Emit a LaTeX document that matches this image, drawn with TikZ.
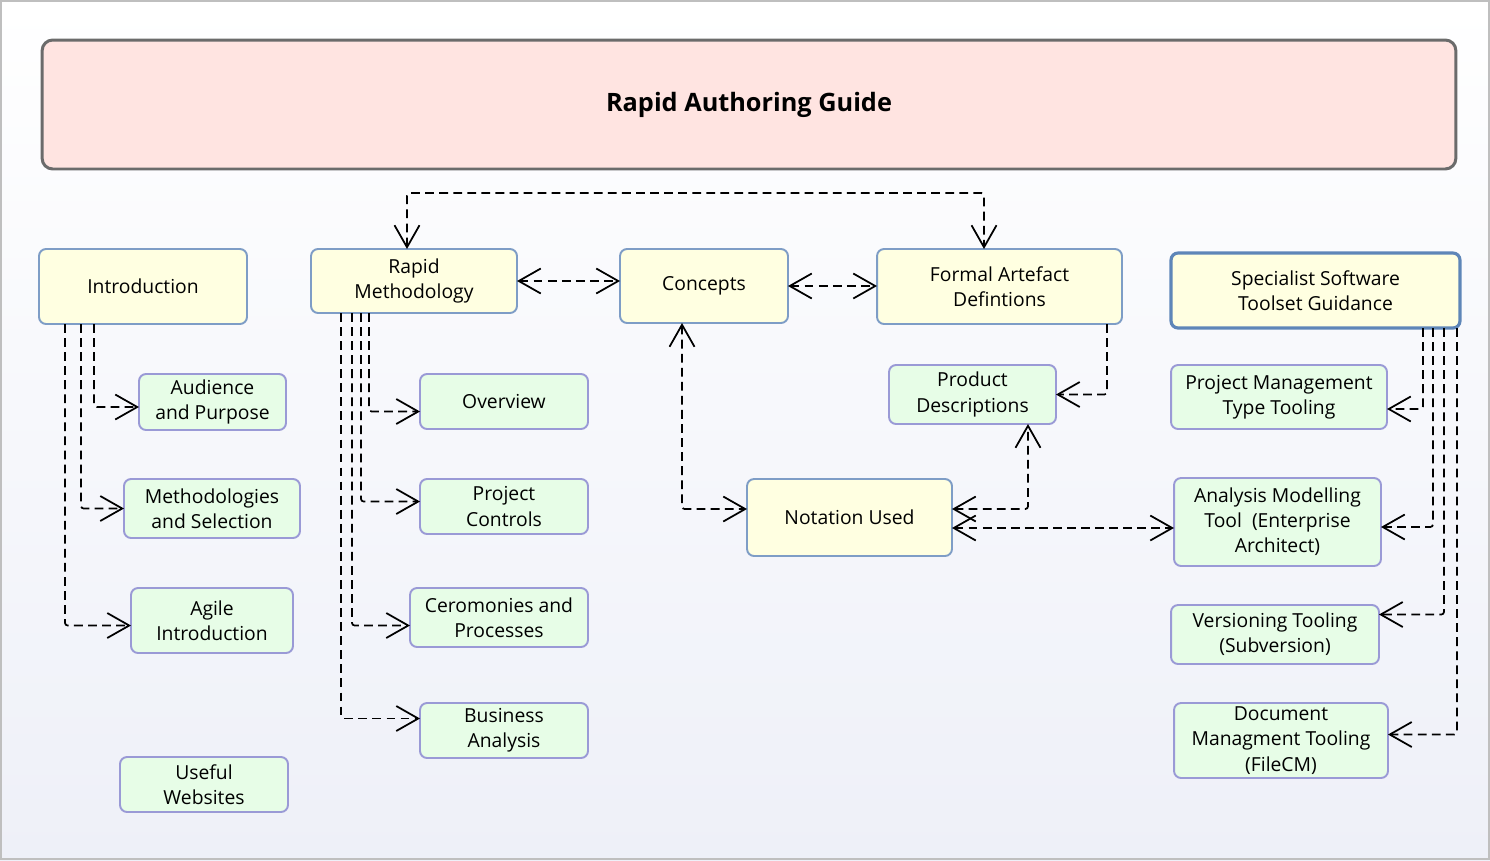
\documentclass[tikz,border=0pt]{standalone}
\usepackage{fontspec}
\setmainfont{Open Sans}
\usepackage{xcolor}
\usepackage{tikz}
\usetikzlibrary{arrows.meta}
\definecolor{topicfill}{HTML}{FFFFE1}
\definecolor{topicline}{HTML}{7E9DC6}
\definecolor{subfill}{HTML}{E7FDE7}
\definecolor{subline}{HTML}{9A9AD6}
\definecolor{guideline}{HTML}{5E86B8}
\definecolor{titlefill}{HTML}{FFE4E1}
\definecolor{titleline}{HTML}{6B6B6B}
\definecolor{bgbottom}{HTML}{EEF0F8}
\tikzset{
every picture/.style={x=0.02cm, y=-0.02cm},
%%%%%%%%%%  Node styles
topic/.style={fill=topicfill, draw=topicline, line width=1.1pt,
              rounded corners=4pt, inner sep=0pt, outer sep=0pt,
              align=center, font=\fontsize{11}{14.3}\selectfont},
sub_topic/.style={topic, fill=subfill, draw=subline},
guide_topic/.style={topic, draw=guideline, line width=1.8pt},
title_box/.style={fill=titlefill, draw=titleline, line width=1.7pt,
                  rounded corners=6pt, inner sep=0pt,
                  font=\fontsize{14.4}{17}\selectfont\bfseries},
%%%%%%% connector styles
dep/.style={dash pattern=on 5pt off 3pt, line width=1pt,
            rounded corners=1.5pt,
            -{Straight Barb[length=0.44cm,width=0.5cm,line width=1pt]}},
both_dep/.style={dep,
            {Straight Barb[length=0.44cm,width=0.5cm,line width=1pt]}-{Straight Barb[length=0.44cm,width=0.5cm,line width=1pt]}}
}
\begin{document}
\begin{tikzpicture}
%%background and frame
\useasboundingbox (0,0) rectangle (1490,860);
\shade[top color=white, bottom color=bgbottom] (0,0) rectangle (1490,860);
\draw[black!25, line width=1.2pt] (1,1) rectangle (1489,859);
%%title
\node[title_box, minimum width=28.28cm, minimum height=2.58cm] (guide) at (749,104.5) {Rapid Authoring Guide};
%%%%%%%%%%%%%%%%%%%%%%%
%%introduction column
\node[topic, minimum width=4.16cm, minimum height=1.50cm] (intro) at (143,286.5) {Introduction};
\node[sub_topic, minimum width=2.94cm, minimum height=1.12cm] (aud) at (212.5,402) {Audience\\and Purpose};
\node[sub_topic, minimum width=3.52cm, minimum height=1.18cm] (meth) at (212,508.5) {Methodologies\\and Selection};
\node[sub_topic, minimum width=3.24cm, minimum height=1.30cm] (agile) at (212,620.5) {Agile\\Introduction};
\node[sub_topic, minimum width=3.36cm, minimum height=1.10cm] (useful) at (204,784.5) {Useful\\Websites};
\draw[dep] ([xshift=1.10cm]intro.south west) |- ([yshift=-0.1cm]aud.west);
\draw[dep] ([xshift=0.84cm]intro.south west) |- (meth.west);
\draw[dep] ([xshift=0.52cm]intro.south west) |- ([yshift=-0.1cm]agile.west);
%%%%%%%%%%%%%%%%%%%%%%%
%%rapid methodology column
\node[topic, minimum width=4.12cm, minimum height=1.28cm] (rapid) at (414,281) {Rapid\\Methodology};
\node[sub_topic, minimum width=3.36cm, minimum height=1.10cm] (overview) at (504,401.5) {Overview};
\node[sub_topic, minimum width=3.36cm, minimum height=1.10cm] (controls) at (504,506.5) {Project\\Controls};
\node[sub_topic, minimum width=3.56cm, minimum height=1.18cm] (ceremonies) at (499,617.5) {Ceromonies and\\Processes};
\node[sub_topic, minimum width=3.36cm, minimum height=1.10cm] (business) at (504,730.5) {Business\\Analysis};
\draw[dep] ([xshift=1.16cm]rapid.south west) |- ([yshift=-0.2cm]overview.west);
\draw[dep] ([xshift=1.00cm]rapid.south west) |- ([yshift=0.1cm]controls.west);
\draw[dep] ([xshift=0.82cm]rapid.south west) |- ([yshift=-0.16cm]ceremonies.west);
\draw[dep] ([xshift=0.60cm]rapid.south west) |- ([yshift=0.24cm]business.west);
%%%%%%%%%%%%%%%%%%%%%%%
%%concepts, artefacts and notation
\node[topic, minimum width=3.36cm, minimum height=1.48cm] (concepts) at (704,286) {Concepts};
\node[topic, minimum width=4.90cm, minimum height=1.50cm] (formal) at (999.5,286.5) {Formal Artefact\\Defintions};
\node[sub_topic, minimum width=3.34cm, minimum height=1.18cm] (product) at (972.5,394.5) {Product\\Descriptions};
\node[topic, minimum width=4.10cm, minimum height=1.54cm] (notation) at (849.5,517.5) {Notation Used};
\draw[both_dep] (rapid.east) -- (rapid.east -| concepts.west);
\draw[both_dep] (concepts.east) -- (concepts.east -| formal.west);
\draw[both_dep] ([xshift=-0.14cm]rapid.north) -- ++(0cm,1.12cm) -| ([xshift=-0.31cm]formal.north);
\draw[dep] ([xshift=-0.30cm]formal.south east) |- (product.east);
\draw[both_dep] ([xshift=-0.44cm]concepts.south) |- ([yshift=0.17cm]notation.west);
\draw[both_dep] ([yshift=0.17cm]notation.east) -| ([xshift=1.11cm]product.south);
%%%%%%%%%%%%%%%%%%%%%%%
%%toolset column
\node[guide_topic, minimum width=5.78cm, minimum height=1.50cm] (toolset) at (1315.5,290.5) {Specialist Software\\Toolset Guidance};
\node[sub_topic, minimum width=4.32cm, minimum height=1.28cm] (pmtool) at (1279,397) {Project Management\\Type Tooling};
\node[sub_topic, minimum width=4.14cm, minimum height=1.76cm] (analysis) at (1277.5,522) {Analysis Modelling\\Tool\ \ (Enterprise\\Architect)};
\node[sub_topic, minimum width=4.16cm, minimum height=1.18cm] (version) at (1275,634.5) {Versioning Tooling\\(Subversion)};
\node[sub_topic, minimum width=4.28cm, minimum height=1.50cm] (docmgmt) at (1281,740.5) {Document\\Managment Tooling\\(FileCM)};
\draw[dep] ([xshift=-0.74cm]toolset.south east) |- ([yshift=-0.24cm]pmtool.east);
\draw[dep] ([xshift=-0.54cm]toolset.south east) |- ([yshift=-0.1cm]analysis.west -| analysis.east);
\draw[dep] ([xshift=-0.32cm]toolset.south east) |- ([yshift=0.4cm]version.east);
\draw[dep] ([xshift=-0.06cm]toolset.south east) |- ([yshift=0.12cm]docmgmt.east);
%%notation to modelling tool
\coordinate (na) at ([yshift=-0.21cm]notation.east);
\draw[both_dep] (na) -- (na -| analysis.west);
\end{tikzpicture}
\end{document}
